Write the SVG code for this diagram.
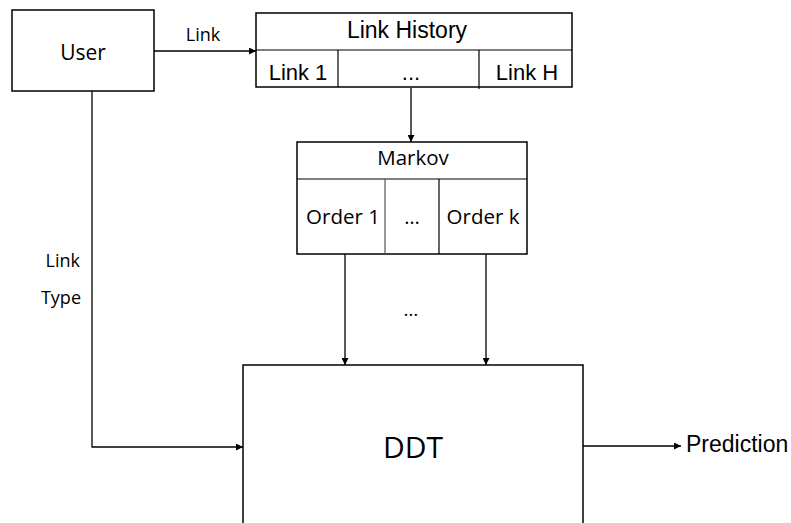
<svg xmlns="http://www.w3.org/2000/svg" width="791" height="523" viewBox="0 0 791 523">
  <style>
    .box { fill: #fff; stroke: #000; stroke-width: 1.5; }
    .div { stroke: #000; stroke-width: 1.2; fill: none; }
    .gray { stroke: #555; stroke-width: 1.2; fill: none; }
    .wire { stroke: #000; stroke-width: 1.3; fill: none; }
    .cal { font-family: "Open Sans", "DejaVu Sans", sans-serif; fill: #000; }
    .ar { font-family: "Liberation Sans", Arial, sans-serif; fill: #000; }
  </style>
  <defs>
    <marker id="tip" viewBox="0 0 10 10" refX="10" refY="5" markerWidth="8" markerHeight="7" markerUnits="userSpaceOnUse" orient="auto">
      <path d="M0,0 L10,5 L0,10 z" fill="#000"/>
    </marker>
  </defs>

  <rect width="791" height="523" fill="#fff"/>

  <!-- connectors -->
  <g id="connectors">
    <line class="wire" x1="154" y1="51" x2="256" y2="51" marker-end="url(#tip)"/>
    <line class="wire" x1="411" y1="88" x2="411" y2="142" marker-end="url(#tip)"/>
    <line class="wire" x1="345" y1="254" x2="345" y2="365" marker-end="url(#tip)"/>
    <line class="wire" x1="486" y1="254" x2="486" y2="365" marker-end="url(#tip)"/>
    <polyline class="wire" points="92,91 92,447 243,447" marker-end="url(#tip)"/>
    <line class="wire" x1="583" y1="446" x2="681" y2="446" marker-end="url(#tip)"/>
  </g>

  <!-- labels on connectors -->
  <g id="labels">
    <text class="cal" x="203" y="41" font-size="18" text-anchor="middle">Link</text>
    <text class="cal" x="80" y="267" font-size="18" text-anchor="end">Link</text>
    <text class="cal" x="81" y="304" font-size="18" text-anchor="end">Type</text>
    <text class="cal" x="411" y="316" font-size="19" text-anchor="middle">…</text>
    <text class="ar" x="686" y="452" font-size="23">Prediction</text>
  </g>

  <!-- user node -->
  <g id="user">
    <rect class="box" x="12" y="10" width="142" height="81"/>
    <text class="cal" x="83" y="60" font-size="21" text-anchor="middle">User</text>
  </g>

  <!-- link history node -->
  <g id="link-history">
    <rect class="box" x="256" y="13" width="316" height="74"/>
    <line class="div" x1="256" y1="50" x2="572" y2="50"/>
    <line class="div" x1="338" y1="50" x2="338" y2="87"/>
    <line class="div" x1="479" y1="50" x2="479" y2="89"/>
    <text class="ar" x="407" y="38" font-size="23" text-anchor="middle">Link History</text>
    <text class="ar" x="298" y="80" font-size="22" text-anchor="middle">Link 1</text>
    <text class="ar" x="411" y="80" font-size="22" text-anchor="middle">...</text>
    <text class="ar" x="527" y="80" font-size="22" text-anchor="middle">Link H</text>
  </g>

  <!-- markov node -->
  <g id="markov">
    <rect class="box" x="297" y="142" width="230" height="112"/>
    <line class="div" x1="297" y1="179" x2="527" y2="179"/>
    <line class="gray" x1="385" y1="179" x2="385" y2="254"/>
    <line class="div" x1="439" y1="179" x2="439" y2="254"/>
    <text class="cal" x="413" y="165" font-size="20.5" text-anchor="middle">Markov</text>
    <text class="cal" x="343" y="224" font-size="20.5" text-anchor="middle">Order 1</text>
    <text class="cal" x="412" y="224" font-size="20" text-anchor="middle">…</text>
    <text class="cal" x="483" y="224" font-size="20.5" text-anchor="middle">Order k</text>
  </g>

  <!-- ddt node (continues past the lower edge) -->
  <g id="ddt">
    <path class="box" d="M243,530 L243,365 L583,365 L583,530"/>
    <text class="cal" x="413" y="458" font-size="30" text-anchor="middle">DDT</text>
  </g>
</svg>
